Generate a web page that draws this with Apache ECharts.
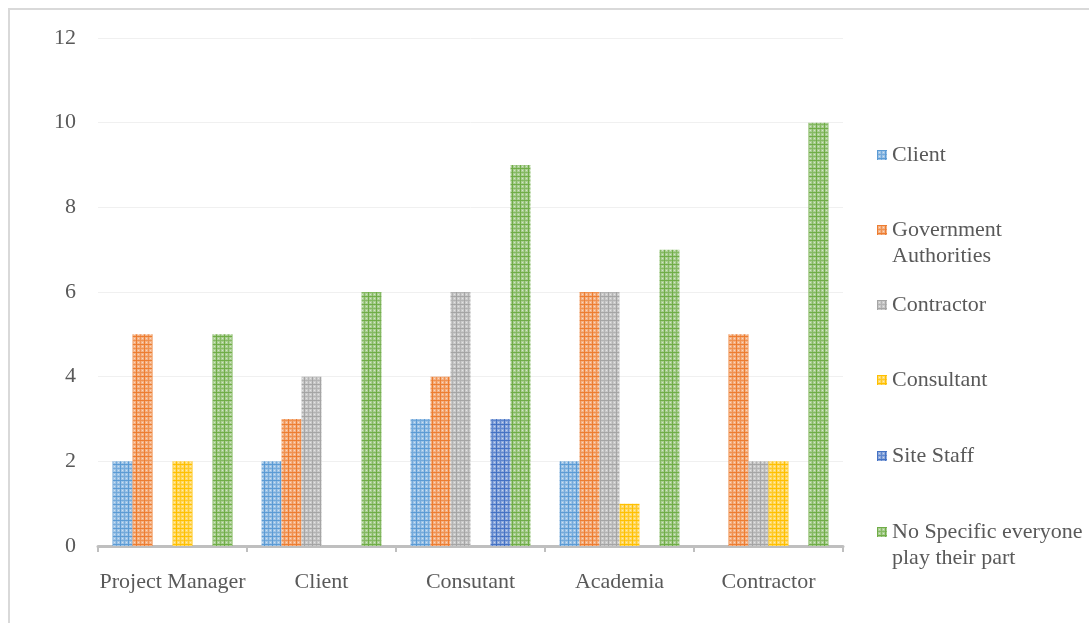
<!DOCTYPE html>
<html>
<head>
<meta charset="utf-8">
<script src="https://cdn.jsdelivr.net/npm/echarts@6/dist/echarts.min.js"></script>
<style>
  html, body { margin: 0; padding: 0; background: #fff; }
  #frame {
    position: absolute; left: 8px; top: 8px; right: 0; bottom: 0;
    border-left: 2px solid #D9D9D9; border-top: 2px solid #D9D9D9;
  }
  #chart { position: absolute; left: 0; top: 0; width: 1089px; height: 623px; }
</style>
</head>
<body>
<div id="frame"></div>
<div id="chart"></div>
<script>
const categories = ['Project Manager', 'Client', 'Consutant', 'Academia', 'Contractor']
const seriesNames = ['Client', 'Government\nAuthorities', 'Contractor', 'Consultant', 'Site Staff', 'No Specific everyone\nplay their part']
const seriesColors = ['#5B9BD5', '#ED7D31', '#A5A5A5', '#FFC000', '#4472C4', '#70AD47']

const clientVals = [2, 2, 3, 2, 0]
const govVals = [5, 3, 4, 6, 5]
const contractorVals = [0, 4, 6, 6, 2]
const consultantVals = [2, 0, 0, 1, 2]
const siteStaffVals = [0, 0, 3, 0, 0]
const noSpecificVals = [5, 6, 9, 7, 10]
const allVals = [clientVals, govVals, contractorVals, consultantVals, siteStaffVals, noSpecificVals]

const yTicks = [0, 2, 4, 6, 8, 10, 12]

const mix = (hex, t) => {
  // blend color toward white by t
  const n = parseInt(hex.slice(1), 16)
  const r = (n >> 16) & 255, g = (n >> 8) & 255, b = n & 255
  const f = c => Math.round(c + (255 - c) * t)
  return `rgb(${f(r)},${f(g)},${f(b)})`
}

const makePattern = (hex) => {
  const c = document.createElement('canvas')
  c.width = 8
  c.height = 8
  const ctx = c.getContext('2d')
  ctx.fillStyle = mix(hex, 0.4)
  ctx.fillRect(0, 0, 8, 8)
  ctx.fillStyle = mix(hex, 0.15)
  ctx.fillRect(0, 4, 8, 1)
  ctx.fillRect(4, 0, 1, 8)
  ctx.fillStyle = hex
  ctx.fillRect(0, 0, 8, 1)
  ctx.fillRect(0, 0, 1, 8)
  ctx.fillStyle = mix(hex, 0.7)
  ctx.fillRect(2, 2, 1, 1)
  ctx.fillRect(6, 6, 1, 1)
  ctx.fillRect(2, 6, 1, 1)
  ctx.fillRect(6, 2, 1, 1)
  return { image: c, repeat: 'repeat' }
}

const font = '"Liberation Serif", "Times New Roman", serif'
// vertical centre of the first text line of each legend entry
const legendCenters = [155, 230, 305, 380, 456, 532]
const twoLineIcon = 'path://M0,0L10,0L10,10L0,10Z M0,36L10,36'

const chart = echarts.init(document.getElementById('chart'))

const option = {
  animation: false,
  textStyle: { fontFamily: font },
  grid: { left: 98, right: 246, top: 38, bottom: 77 },
  legend: seriesNames.map((name, i) => {
    const twoLine = name.indexOf('\n') >= 0
    return {
      data: [name],
      left: 872,
      top: legendCenters[i] - 18,
      itemWidth: 10,
      itemHeight: twoLine ? 36 : 10,
      itemGap: 0,
      icon: twoLine ? twoLineIcon : 'rect',
      selectedMode: false,
      textStyle: { fontFamily: font, fontSize: 22, color: '#595959', lineHeight: 26 }
    }
  }),
  xAxis: {
    type: 'category',
    data: categories,
    axisLine: { lineStyle: { color: '#BFBFBF', width: 3 } },
    axisTick: { show: true, length: 6, lineStyle: { color: '#BFBFBF', width: 2 } },
    axisLabel: { interval: 0, fontFamily: font, fontSize: 22, color: '#595959', margin: 25 }
  },
  yAxis: {
    type: 'value',
    min: yTicks[0],
    max: yTicks[yTicks.length - 1],
    interval: 2,
    axisLine: { show: false },
    axisTick: { show: false },
    splitLine: { lineStyle: { color: '#F0F0F0', width: 1 } },
    axisLabel: { fontFamily: font, fontSize: 22, color: '#595959', margin: 22 }
  },
  series: seriesNames.map((name, i) => ({
    name: name,
    type: 'bar',
    data: allVals[i],
    barGap: 0,
    barCategoryGap: '19.5%',
    itemStyle: { color: makePattern(seriesColors[i]) }
  }))
}

chart.setOption(option)
</script>
</body>
</html>
